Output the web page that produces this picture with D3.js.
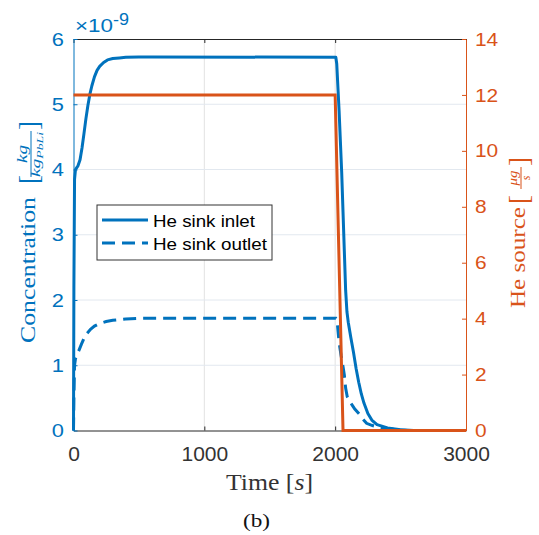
<!DOCTYPE html>
<html>
<head>
<meta charset="utf-8">
<script src="https://cdn.jsdelivr.net/npm/d3@7"></script>
<style>
  html, body { margin: 0; padding: 0; background: #fff; }
  svg { display: block; }
  .sans { font-family: "Liberation Sans", Arimo, Arial, Helvetica, sans-serif; }
  .serif { font-family: "Liberation Serif", Tinos, "Times New Roman", serif; }
</style>
</head>
<body>
<svg id="chart" width="539" height="535"></svg>
<script>
// Helium concentration (×1e-9 kg/kg_PbLi) at the sink inlet and outlet, and helium source (µg/s)
const timeInlet = [0, 3, 8, 15, 25, 35, 50, 65, 80, 95, 110, 125, 140, 160, 180, 200, 230, 260, 300, 350, 400, 500, 600,
  2005, 2012, 2030, 2050, 2060, 2070, 2080, 2090, 2100, 2120, 2140, 2160, 2180, 2200, 2220, 2250, 2280, 2320, 2400, 2500, 2600, 3000];
const heInlet = [0, 2.2, 3.85, 4.0, 4.03, 4.06, 4.15, 4.33, 4.55, 4.78, 4.98, 5.15, 5.28, 5.42, 5.52, 5.58, 5.64, 5.68, 5.70, 5.71, 5.72, 5.725, 5.725,
  5.72, 5.62, 4.9, 3.95, 3.35, 2.75, 2.15, 1.82, 1.66, 1.42, 1.2, 0.95, 0.74, 0.56, 0.42, 0.26, 0.16, 0.09, 0.04, 0.01, 0, 0];

const timeOutlet = [0, 3, 8, 15, 25, 40, 60, 80, 100, 130, 160, 200, 250, 300, 400, 500,
  2005, 2015, 2023, 2030, 2045, 2060, 2070, 2080, 2092, 2110, 2130, 2150, 2185, 2210, 2240, 2280, 2320, 2400, 2480, 2550, 3000];
const heOutlet = [0, 0.5, 1.0, 1.1, 1.15, 1.22, 1.32, 1.41, 1.48, 1.55, 1.6, 1.64, 1.67, 1.69, 1.71, 1.72,
  1.72, 1.68, 1.5, 1.35, 1.15, 0.98, 0.85, 0.65, 0.52, 0.45, 0.39, 0.33, 0.25, 0.18, 0.11, 0.08, 0.055, 0.03, 0.01, 0, 0];

const timeSource = [0, 2000, 2060, 3000];
const heSource = [12, 12, 0, 0];

const xTicks = [0, 1000, 2000, 3000];
const leftTicks = [0, 1, 2, 3, 4, 5, 6];
const rightTicks = [0, 2, 4, 6, 8, 10, 12, 14];
const legendLabels = ["He sink inlet", "He sink outlet"];

const BLUE = "#0072BD", ORANGE = "#D95319", INK = "#262626";

const svg = d3.select("#chart");
const L = 73.5, R = 466, T = 39, B = 430.5;

const x = d3.scaleLinear().domain([0, 3000]).range([L, R]);
const yL = d3.scaleLinear().domain([0, 6]).range([B, T]);
const yR = d3.scaleLinear().domain([0, 14]).range([B, T]);

// widen glyphs a little, the axis text is drawn wide
function stretch(sel, k) {
  sel.each(function () {
    const len = this.getComputedTextLength();
    d3.select(this).attr("textLength", len * k).attr("lengthAdjust", "spacingAndGlyphs");
  });
}
function fitTo(sel, w) {
  sel.attr("textLength", w).attr("lengthAdjust", "spacingAndGlyphs");
}

// grid
const grid = svg.append("g");
grid.selectAll("line.gx").data(xTicks.slice(1, -1)).join("line")
  .attr("x1", d => x(d)).attr("x2", d => x(d)).attr("y1", T).attr("y2", B)
  .attr("stroke", "#e2e2e2").attr("stroke-width", 1);
grid.selectAll("line.gy").data(leftTicks.slice(1, -1)).join("line")
  .attr("x1", L).attr("x2", R).attr("y1", d => yL(d)).attr("y2", d => yL(d))
  .attr("stroke", "#e2e8ef").attr("stroke-width", 1);

// axes
const axB = svg.append("g").attr("transform", `translate(0,${B})`)
  .call(d3.axisBottom(x).tickValues(xTicks).tickSizeInner(-4).tickSizeOuter(0).tickPadding(16.5).tickFormat(d3.format("d")));
const axT = svg.append("g").attr("transform", `translate(0,${T})`)
  .call(d3.axisTop(x).tickValues(xTicks).tickSizeInner(-4).tickSizeOuter(0).tickFormat(""));
const axL = svg.append("g").attr("transform", `translate(${L},0)`)
  .call(d3.axisLeft(yL).tickValues(leftTicks).tickSizeInner(-4).tickSizeOuter(0).tickPadding(9.5).tickFormat(d3.format("d")));
const axR = svg.append("g").attr("transform", `translate(${R},0)`)
  .call(d3.axisRight(yR).tickValues(rightTicks).tickSizeInner(-4).tickSizeOuter(0).tickPadding(9).tickFormat(d3.format("d")));

[axB, axL, axR, axT].forEach(a => a.attr("font-family", null).attr("font-size", null).attr("class", "sans"));
[axB, axT].forEach(a => {
  a.select(".domain").attr("stroke", INK).attr("stroke-width", 1);
  a.selectAll(".tick line").attr("stroke", INK);
});
axB.selectAll("text").attr("fill", "#333").attr("font-size", 20).attr("dy", "0.71em");
axL.select(".domain").attr("stroke", BLUE);
axL.selectAll(".tick line").attr("stroke", BLUE);
axL.selectAll("text").attr("fill", BLUE).attr("font-size", 19);
axR.select(".domain").attr("stroke", ORANGE);
axR.selectAll(".tick line").attr("stroke", ORANGE);
axR.selectAll("text").attr("fill", ORANGE).attr("font-size", 19);
stretch(axB.selectAll("text"), 1.05);
stretch(axL.selectAll("text"), 1.15);
stretch(axR.selectAll("text"), 1.1);

// exponent of the left axis
svg.append("text").attr("class", "sans").attr("x", 75).attr("y", 32).attr("fill", BLUE)
  .attr("font-size", 18).text("\u00d710").call(fitTo, 38);
svg.append("text").attr("class", "sans").attr("x", 113).attr("y", 25).attr("fill", BLUE)
  .attr("font-size", 17).text("-9").call(fitTo, 16);

// series
const lineL = (ts, vs) => d3.line().x((d, i) => x(ts[i])).y(d => yL(d))(vs);
const lineR = (ts, vs) => d3.line().x((d, i) => x(ts[i])).y(d => yR(d))(vs);

svg.append("path").attr("d", lineL(timeInlet, heInlet))
  .attr("fill", "none").attr("stroke", BLUE).attr("stroke-width", 3).attr("stroke-linejoin", "round");
svg.append("path").attr("d", lineL(timeOutlet, heOutlet))
  .attr("fill", "none").attr("stroke", BLUE).attr("stroke-width", 3).attr("stroke-dasharray", "13,7");
svg.append("path").attr("d", lineR(timeSource, heSource))
  .attr("fill", "none").attr("stroke", ORANGE).attr("stroke-width", 3);

// legend
const lg = svg.append("g");
lg.append("rect").attr("x", 97).attr("y", 205).attr("width", 175).attr("height", 55)
  .attr("fill", "#fff").attr("stroke", "#333").attr("stroke-width", 1);
const legendY = [220, 243];
const legendW = [102, 114];
legendLabels.forEach((lab, i) => {
  lg.append("line").attr("x1", 102).attr("x2", 148).attr("y1", legendY[i]).attr("y2", legendY[i])
    .attr("stroke", BLUE).attr("stroke-width", 3).attr("stroke-dasharray", i === 1 ? "13,7" : null);
  lg.append("text").attr("class", "sans").attr("x", 153).attr("y", legendY[i] + 6.5).attr("fill", "#000")
    .attr("font-size", 17).text(lab).call(fitTo, legendW[i]);
});

// left axis label: Concentration [kg / kg_PbLi]
const ll = svg.append("g").attr("class", "serif").attr("transform", "translate(35,343) rotate(-90)").attr("fill", BLUE);
ll.append("text").attr("x", 0).attr("y", 0).attr("font-size", 22).text("Concentration").call(fitTo, 146);
ll.append("text").attr("x", 159).attr("y", 2.5).attr("font-size", 27).text("[");
ll.append("text").attr("x", 189).attr("y", -8.5).attr("text-anchor", "middle")
  .attr("font-size", 14).attr("font-style", "italic").text("kg").call(fitTo, 18);
ll.append("line").attr("x1", 166).attr("x2", 212).attr("y1", -4).attr("y2", -4).attr("stroke", BLUE).attr("stroke-width", 1);
const den = ll.append("text").attr("x", 166).attr("y", 5).attr("font-size", 12).attr("font-style", "italic");
den.append("tspan").text("kg");
den.append("tspan").attr("dy", 2.5).attr("font-size", 8.5).text("PbLi");
den.call(fitTo, 45);
ll.append("text").attr("x", 213).attr("y", 2.5).attr("font-size", 27).text("]");

// right axis label: He source [µg / s]
const rl = svg.append("g").attr("class", "serif").attr("transform", "translate(525,308) rotate(-90)").attr("fill", ORANGE);
rl.append("text").attr("x", 0).attr("y", 0).attr("font-size", 22).text("He source").call(fitTo, 101);
rl.append("text").attr("x", 104).attr("y", 2.5).attr("font-size", 27).text("[");
rl.append("text").attr("x", 130).attr("y", -8.5).attr("text-anchor", "middle")
  .attr("font-size", 13).attr("font-style", "italic").text("\u03bcg").call(fitTo, 15);
rl.append("line").attr("x1", 119).attr("x2", 141).attr("y1", -4).attr("y2", -4).attr("stroke", ORANGE).attr("stroke-width", 1);
rl.append("text").attr("x", 130).attr("y", 5).attr("text-anchor", "middle")
  .attr("font-size", 12).attr("font-style", "italic").text("s");
rl.append("text").attr("x", 142).attr("y", 2.5).attr("font-size", 27).text("]");

// x axis label and caption
const tl = svg.append("text").attr("class", "serif").attr("x", 226).attr("y", 490).attr("fill", "#333").attr("font-size", 24);
tl.append("tspan").text("Time [");
tl.append("tspan").attr("font-style", "italic").text("s");
tl.append("tspan").text("]");
tl.call(fitTo, 87);

svg.append("text").attr("class", "serif").attr("x", 256.5).attr("y", 527).attr("text-anchor", "middle").attr("fill", "#111")
  .attr("font-size", 19).text("(b)").call(fitTo, 27);
</script>
</body>
</html>
